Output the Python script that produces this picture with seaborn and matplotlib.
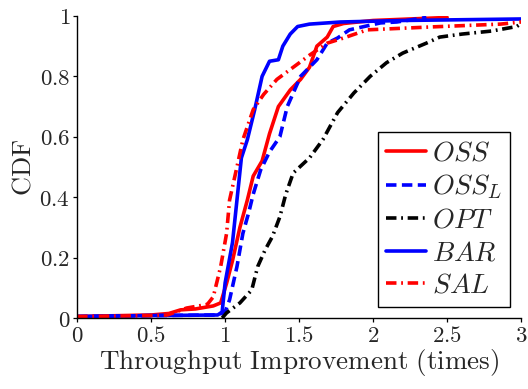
import matplotlib
matplotlib.use("Agg")
import matplotlib.pyplot as plt
import seaborn as sns
import pandas as pd

# ---- data ----
OSS_x = [0, 0.5, 0.62, 0.70, 0.80, 0.92, 0.97, 1.01, 1.05, 1.10, 1.15, 1.19, 1.25, 1.30, 1.36, 1.44, 1.51, 1.57, 1.62, 1.69, 1.73, 1.80, 2.0, 2.5]
OSS_y = [0.005, 0.01, 0.015, 0.027, 0.03, 0.04, 0.05, 0.115, 0.19, 0.30, 0.39, 0.47, 0.52, 0.61, 0.70, 0.755, 0.79, 0.83, 0.90, 0.93, 0.965, 0.975, 0.985, 0.995]

OSSL_x = [0, 0.5, 0.95, 1.0, 1.03, 1.08, 1.12, 1.16, 1.19, 1.24, 1.30, 1.37, 1.42, 1.51, 1.57, 1.62, 1.69, 1.76, 1.84, 1.93, 2.05, 2.16, 2.36]
OSSL_y = [0.005, 0.008, 0.01, 0.02, 0.06, 0.17, 0.28, 0.35, 0.41, 0.49, 0.55, 0.60, 0.70, 0.80, 0.83, 0.855, 0.91, 0.927, 0.954, 0.964, 0.977, 0.98, 0.995]

OPT_x = [0.98, 1.01, 1.10, 1.18, 1.22, 1.27, 1.32, 1.37, 1.41, 1.46, 1.57, 1.66, 1.76, 1.87, 1.98, 2.09, 2.20, 2.36, 2.45, 2.6, 2.8, 2.97, 3.0]
OPT_y = [0.0, 0.017, 0.05, 0.093, 0.17, 0.225, 0.27, 0.335, 0.41, 0.48, 0.53, 0.59, 0.68, 0.745, 0.80, 0.845, 0.877, 0.91, 0.93, 0.94, 0.95, 0.965, 0.975]

BAR_x = [0, 0.5, 0.95, 0.98, 1.0, 1.05, 1.08, 1.11, 1.15, 1.2, 1.25, 1.3, 1.36, 1.39, 1.44, 1.49, 1.57, 1.78, 2.2, 3.0]
BAR_y = [0.005, 0.008, 0.01, 0.02, 0.116, 0.25, 0.39, 0.53, 0.59, 0.69, 0.80, 0.85, 0.855, 0.90, 0.94, 0.965, 0.973, 0.98, 0.985, 0.99]

SAL_x = [0, 0.5, 0.61, 0.74, 0.88, 0.92, 0.97, 1.01, 1.03, 1.08, 1.12, 1.19, 1.26, 1.35, 1.46, 1.57, 1.69, 1.8, 1.96, 2.41, 2.86, 3.0]
SAL_y = [0.005, 0.008, 0.01, 0.033, 0.045, 0.07, 0.17, 0.28, 0.39, 0.50, 0.59, 0.69, 0.74, 0.79, 0.83, 0.87, 0.91, 0.927, 0.954, 0.964, 0.973, 0.98]

labels = [r"$OSS$", r"$OSS_L$", r"$OPT$", r"$BAR$", r"$SAL$"]
x_ticks = [0, 0.5, 1, 1.5, 2, 2.5, 3]
x_ticklabels = ["0", "0.5", "1", "1.5", "2", "2.5", "3"]
y_ticks = [0, 0.2, 0.4, 0.6, 0.8, 1]
y_ticklabels = ["0", "0.2", "0.4", "0.6", "0.8", "1"]

series = [
    (OSS_x, OSS_y, labels[0], "#ff0000", "-", None),
    (OSSL_x, OSSL_y, labels[1], "#0000ff", "--", (2.9, 1.5)),
    (OPT_x, OPT_y, labels[2], "#000000", "-.", (2.9, 1.3, 0.5, 1.3)),
    (BAR_x, BAR_y, labels[3], "#0000ff", "-", None),
    (SAL_x, SAL_y, labels[4], "#ff0000", "-.", (2.9, 1.3, 0.5, 1.3)),
]

sns.set_style("ticks")
plt.rcParams["mathtext.fontset"] = "cm"
plt.rcParams["font.family"] = ["DejaVu Serif"]

fig = plt.figure(figsize=(5.28, 3.89), dpi=100)
ax = fig.add_axes([0.146, 0.1825, 0.841, 0.7765])

for xs, ys, lab, col, ls, dash in series:
    df = pd.DataFrame({"x": xs, "y": ys})
    sns.lineplot(data=df, x="x", y="y", ax=ax, color=col, linewidth=2.6,
                 linestyle=ls, estimator=None, sort=False, label=lab)
    if dash is not None:
        ax.lines[-1].set_dashes(dash)

ax.set_xlim(0, 3)
ax.set_ylim(0, 1)
ax.set_xticks(x_ticks)
ax.set_xticklabels([f"${t}$" for t in x_ticklabels], fontsize=16.5)
ax.set_yticks(y_ticks)
ax.set_yticklabels([f"${t}$" for t in y_ticklabels], fontsize=16.5)
ax.tick_params(direction="out", length=3, width=0.9, pad=2, color="black")
for s in ["top", "right"]:
    ax.spines[s].set_visible(False)
for s in ["left", "bottom"]:
    ax.spines[s].set_linewidth(1.0)
    ax.spines[s].set_color("black")

ax.set_xlabel(r"$\mathrm{Throughput\ Improvement\ (times)}$", fontsize=19.5, labelpad=0)
ax.set_ylabel(r"$\mathrm{CDF}$", fontsize=19, labelpad=3)

leg = ax.legend(loc="lower right", bbox_to_anchor=(0.975, 0.036), fontsize=20,
                frameon=True, fancybox=False, edgecolor="black", framealpha=1,
                handlelength=1.45, handletextpad=0.2, labelspacing=0.2,
                borderpad=0.3, borderaxespad=0)
leg.get_frame().set_linewidth(1.0)

fig.savefig("out.png", dpi=100)
